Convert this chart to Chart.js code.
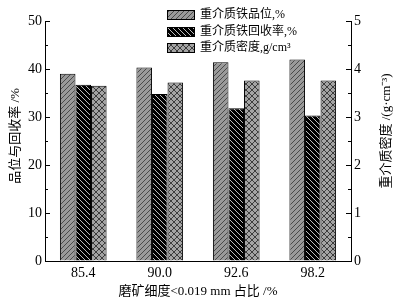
<!DOCTYPE html>
<html>
<head>
<meta charset="utf-8">
<script src="https://cdn.jsdelivr.net/npm/chart.js@4"></script>
<style>
  body { margin: 0; background: #fff; }
  #wrap { position: relative; width: 397px; height: 303px; }
</style>
</head>
<body>
<div id="wrap"><canvas id="GrindChart"></canvas></div>
<script>
const categories = ["85.4", "90.0", "92.6", "98.2"];
const gradeValues = [39.0, 40.3, 41.4, 42.0];
const recoveryValues = [36.7, 34.8, 31.8, 30.3];
const densityValues = [3.65, 3.72, 3.76, 3.76];
const seriesNames = ["重介质铁品位,%", "重介质铁回收率,%", "重介质密度,g/cm³"];
const leftTitle = "品位与回收率 /%";
const rightTitle = "重介质密度 /(g·cm⁻³)";
const bottomTitle = "磨矿细度<0.019 mm 占比 /%";

const FONT = "'Liberation Serif', 'Noto Sans CJK SC', serif";

// hatch fills
function makePattern(bg, fg, kind, size) {
  const c = document.createElement("canvas");
  c.width = size;
  c.height = size;
  const g = c.getContext("2d");
  g.fillStyle = bg;
  g.fillRect(0, 0, size, size);
  g.strokeStyle = fg;
  g.lineWidth = 1;
  const fwd = () => {
    g.beginPath();
    g.moveTo(-1, size + 1); g.lineTo(size + 1, -1);
    g.moveTo(-1, 1); g.lineTo(1, -1);
    g.moveTo(size - 1, size + 1); g.lineTo(size + 1, size - 1);
    g.stroke();
  };
  const back = () => {
    g.beginPath();
    g.moveTo(-1, -1); g.lineTo(size + 1, size + 1);
    g.moveTo(size - 1, -1); g.lineTo(size + 1, 1);
    g.moveTo(-1, size - 1); g.lineTo(1, size + 1);
    g.stroke();
  };
  if (kind === "fwd" || kind === "cross") fwd();
  if (kind === "back" || kind === "cross") back();
  return g.createPattern(c, "repeat");
}

const gradeFill = makePattern("#9a9a9a", "#4a4a4a", "fwd", 5);
const recoveryFill = makePattern("#000000", "#bdbdbd", "back", 5);
const densityFill = makePattern("#a3a3a3", "#3c3c3c", "cross", 6);
const fills = [gradeFill, recoveryFill, densityFill];

const extrasPlugin = {
  id: "extras",
  afterDraw(chart) {
    const ctx = chart.ctx;
    const area = chart.chartArea;
    const y = chart.scales.y;
    const y1 = chart.scales.y1;
    ctx.save();
    ctx.strokeStyle = "#000";
    ctx.lineWidth = 1;
    // inward ticks
    ctx.beginPath();
    for (let v = 0; v <= 50; v += 5) {
      const py = Math.round(y.getPixelForValue(v)) + 0.5;
      const len = v % 10 === 0 ? 5 : 3;
      ctx.moveTo(area.left, py);
      ctx.lineTo(area.left + len, py);
    }
    for (let v = 0; v <= 5; v += 0.5) {
      const py = Math.round(y1.getPixelForValue(v)) + 0.5;
      const len = Math.abs(v - Math.round(v)) < 0.01 ? 5 : 3;
      ctx.moveTo(area.right, py);
      ctx.lineTo(area.right - len, py);
    }
    ctx.stroke();

    // axis titles
    ctx.fillStyle = "#000";
    ctx.font = "13px " + FONT;
    ctx.textAlign = "center";
    ctx.textBaseline = "middle";
    ctx.save();
    ctx.translate(16, 136);
    ctx.rotate(-Math.PI / 2);
    ctx.fillText(leftTitle, 0, 0);
    ctx.restore();
    ctx.save();
    ctx.translate(387, 131);
    ctx.rotate(-Math.PI / 2);
    ctx.fillText(rightTitle, 0, 0);
    ctx.restore();
    ctx.fillText(bottomTitle, (area.left + area.right) / 2, 292);

    // legend
    ctx.font = "12px " + FONT;
    ctx.textAlign = "left";
    const rows = [15, 32, 48];
    seriesNames.forEach((name, i) => {
      ctx.fillStyle = fills[i];
      ctx.fillRect(167, rows[i] - 5, 28, 10);
      ctx.strokeRect(167.5, rows[i] - 4.5, 27, 9);
      ctx.fillStyle = "#000";
      ctx.fillText(name, 200, rows[i]);
    });
    ctx.restore();
  },
};

const ctx = document.getElementById("GrindChart");

const axisGrid = { display: true, drawOnChartArea: false, drawTicks: false };

new Chart(ctx, {
  type: "bar",
  data: {
    labels: categories,
    datasets: [
      {
        label: seriesNames[0],
        data: gradeValues,
        yAxisID: "y",
        backgroundColor: gradeFill,
        borderColor: "#000",
        borderWidth: 1,
      },
      {
        label: seriesNames[1],
        data: recoveryValues,
        yAxisID: "y",
        backgroundColor: recoveryFill,
        borderColor: "#000",
        borderWidth: 1,
      },
      {
        label: seriesNames[2],
        data: densityValues,
        yAxisID: "y1",
        backgroundColor: densityFill,
        borderColor: "#000",
        borderWidth: 1,
      },
    ],
  },
  options: {
    responsive: true,
    maintainAspectRatio: false,
    animation: false,
    layout: { padding: { top: 21, left: 0, right: 0, bottom: 0 } },
    datasets: {
      bar: { barPercentage: 1, categoryPercentage: 0.61 },
    },
    plugins: {
      legend: { display: false },
      tooltip: { enabled: false },
    },
    scales: {
      x: {
        afterFit: (s) => { s.height = 42; },
        grid: axisGrid,
        border: { display: true, color: "#000", width: 1 },
        ticks: {
          color: "#000",
          padding: 4,
          font: { family: FONT, size: 14 },
        },
      },
      y: {
        position: "left",
        min: 0,
        max: 50,
        afterFit: (s) => { s.width = 45; },
        grid: axisGrid,
        border: { display: true, color: "#000", width: 1 },
        ticks: {
          stepSize: 10,
          color: "#000",
          padding: 3,
          font: { family: FONT, size: 14 },
        },
      },
      y1: {
        position: "right",
        min: 0,
        max: 5,
        afterFit: (s) => { s.width = 46; },
        grid: axisGrid,
        border: { display: true, color: "#000", width: 1 },
        ticks: {
          stepSize: 1,
          color: "#000",
          padding: 3,
          font: { family: FONT, size: 14 },
        },
      },
    },
  },
  plugins: [extrasPlugin],
});
</script>
</body>
</html>
